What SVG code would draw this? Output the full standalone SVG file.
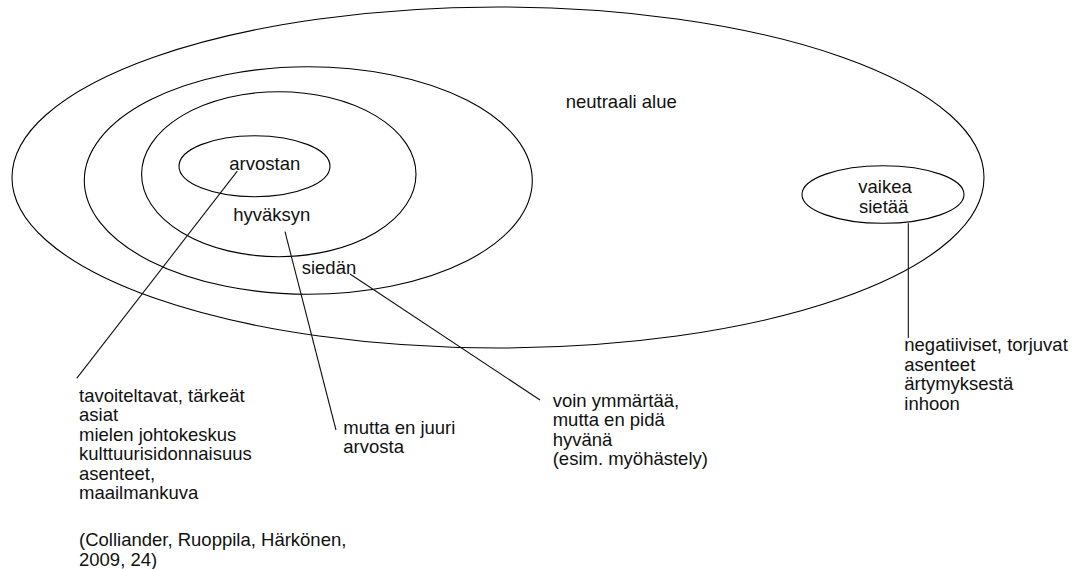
<svg xmlns="http://www.w3.org/2000/svg" width="1077" height="569" viewBox="0 0 1077 569">
  <style>
    .ring { fill: none; stroke: #000; stroke-width: 1.1; }
    .lead { fill: none; stroke: #111; stroke-width: 1.1; }
    text { font-family: "Liberation Sans", Arial, sans-serif; font-size: 18.5px; fill: #111; }
  </style>
  <rect width="1077" height="569" fill="#fff"/>

  <!-- concentric value zones -->
  <g id="neutral-zone">
    <ellipse class="ring" cx="498" cy="177.5" rx="486" ry="170.5"/>
    <text x="565.7" y="108.3">neutraali alue</text>
  </g>
  <g id="tolerate">
    <ellipse class="ring" cx="308.3" cy="180.5" rx="224" ry="113.8"/>
    <text x="301.7" y="274">siedän</text>
  </g>
  <g id="accept">
    <ellipse class="ring" cx="278.8" cy="174.2" rx="137.2" ry="82.5"/>
    <text x="233.3" y="220.7">hyväksyn</text>
  </g>
  <g id="value">
    <ellipse class="ring" cx="254.5" cy="166.2" rx="75.5" ry="30.5"/>
    <text x="229.3" y="170.2">arvostan</text>
  </g>
  <g id="hard-to-tolerate">
    <ellipse class="ring" cx="883" cy="194.5" rx="81" ry="28.8"/>
    <text x="858.3" y="193.3">vaikea</text>
    <text x="859" y="213.3">sietää</text>
  </g>

  <!-- leader lines to the notes -->
  <g id="connectors">
    <line class="lead" x1="237.3" y1="171.2" x2="76.7" y2="378.3"/>
    <line class="lead" x1="285" y1="231.7" x2="336" y2="430"/>
    <line class="lead" x1="350" y1="274" x2="540" y2="400"/>
    <line class="lead" x1="908.3" y1="223.3" x2="908.3" y2="338"/>
  </g>

  <!-- notes -->
  <g id="note-value">
    <text x="79" y="401.7">tavoiteltavat, tärkeät</text>
    <text x="79" y="421.2">asiat</text>
    <text x="79" y="440.7">mielen johtokeskus</text>
    <text x="79" y="460.2">kulttuurisidonnaisuus</text>
    <text x="79" y="479.7">asenteet,</text>
    <text x="79" y="499.2">maailmankuva</text>
  </g>
  <g id="note-source">
    <text x="79" y="546">(Colliander, Ruoppila, Härkönen,</text>
    <text x="79" y="565.5">2009, 24)</text>
  </g>
  <g id="note-accept">
    <text x="343.3" y="433.5">mutta en juuri</text>
    <text x="343.3" y="453">arvosta</text>
  </g>
  <g id="note-tolerate">
    <text x="552.7" y="406.5">voin ymmärtää,</text>
    <text x="552.7" y="426">mutta en pidä</text>
    <text x="552.7" y="445.5">hyvänä</text>
    <text x="552.7" y="465">(esim. myöhästely)</text>
  </g>
  <g id="note-hard">
    <text x="904.3" y="351">negatiiviset, torjuvat</text>
    <text x="904.3" y="370.5">asenteet</text>
    <text x="904.3" y="390">ärtymyksestä</text>
    <text x="904.3" y="409.5">inhoon</text>
  </g>
</svg>
